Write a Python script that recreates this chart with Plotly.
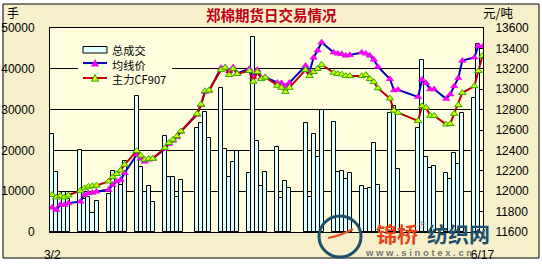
import plotly.graph_objects as go

# ---- data ----
dates = [
    "2009-03-02", "2009-03-03", "2009-03-04", "2009-03-05", "2009-03-06",
    "2009-03-09", "2009-03-10", "2009-03-11", "2009-03-12", "2009-03-13",
    "2009-03-16", "2009-03-17", "2009-03-18", "2009-03-19", "2009-03-20",
    "2009-03-23", "2009-03-24", "2009-03-25", "2009-03-26", "2009-03-27",
    "2009-03-30", "2009-03-31", "2009-04-01", "2009-04-02", "2009-04-03",
    "2009-04-07", "2009-04-08", "2009-04-09", "2009-04-10",
    "2009-04-13", "2009-04-14", "2009-04-15", "2009-04-16", "2009-04-17",
    "2009-04-20", "2009-04-21", "2009-04-22", "2009-04-23", "2009-04-24",
    "2009-04-27", "2009-04-28", "2009-04-29", "2009-04-30",
    "2009-05-04", "2009-05-05", "2009-05-06", "2009-05-07", "2009-05-08",
    "2009-05-11", "2009-05-12", "2009-05-13", "2009-05-14", "2009-05-15",
    "2009-05-18", "2009-05-19", "2009-05-20", "2009-05-21", "2009-05-22",
    "2009-05-25", "2009-05-26", "2009-05-27",
    "2009-06-01", "2009-06-02", "2009-06-03", "2009-06-04", "2009-06-05",
    "2009-06-08", "2009-06-09", "2009-06-10", "2009-06-11", "2009-06-12",
    "2009-06-15", "2009-06-16", "2009-06-17",
]

volume = [
    23900, 14700, 9900, 9700, 8200,
    20200, 8000, 8500, 4700, 7500,
    9200, 15000, 12000, 11500, 17500,
    33300, 16000, 9700, 11200, 7400,
    23600, 13600, 13400, 8700, 12800,
    25500, 26600, 29500, 23100,
    35400, 20400, 13500, 17200, 19800,
    14400, 47800, 22400, 11200, 14700,
    20900, 8400, 12400, 10700,
    26800, 8700, 24100, 18400, 30000,
    27000, 14600, 15000, 13000, 14400,
    11200, 10500, 10900, 21800, 11600,
    29200, 30900, 15500,
    25500, 42100, 18400, 15700, 16200,
    14400, 13000, 19400, 16700, 29200,
    32900, 46000, None,
]

avg_price = [
    11840, 11817, 11866, 11866, 11883,
    11899, 11964, 11981, 11985, 11997,
    12014, 12063, 12096, 12112, 12178,
    12360, 12320, 12290, 12310, 12320,
    12414, 12464, 12496, 12530, 12585,
    12750, 12845, 12975, 12985,
    13210, 13215, 13175, 13215, 13155,
    13200, 13120, 13190, 13110, 13120,
    13064, 13060, 13031, 13064,
    13230, 13170, 13310, 13380, 13460,
    13360, 13350, 13345, 13330, 13335,
    13360, 13350, 13330, 13290, 13220,
    13100, 12990, 12995,
    12925, 13095, 13060, 13000, 13000,
    12905, 12950, 13030, 13110, 13280,
    13311, 13426, 13416,
]

cf907 = [
    11964, 11940, 11955, 11940, 11960,
    12005, 12030, 12046, 12050, 12056,
    12096, 12140, 12170, 12205, 12260,
    12395, 12350, 12310, 12318, 12320,
    12424, 12474, 12506, 12539, 12588,
    12759, 12851, 12982, 12989,
    13190, 13212, 13140, 13200, 13150,
    13180, 13075, 13170, 13100, 13115,
    13035, 13015, 12975, 13015,
    13190, 13130, 13170, 13200, 13240,
    13163, 13150, 13146, 13130, 13130,
    13130, 13140, 13100, 13070, 13010,
    12910, 12790, 12770,
    12690, 12835, 12820, 12740, 12740,
    12655, 12660, 12760, 12845, 12965,
    13031, 13179, 13327,
]

series_names = ["总成交", "均线价", "主力CF907"]
x_tick_vals = ["2009-03-02", "2009-06-17"]
x_tick_text = ["3/2", "6/17"]

# ---- styling ----
PLOT_BG = "#FFFFDF"
OUTER_BG = "#F5F0C9"
BAR_FILL = "#E0FFFF"
BLUE = "#0000B8"
MAGENTA = "#FF00FF"
RED = "#C00000"
YGREEN = "#CCFF00"
GREEN_EDGE = "#33AA00"
DAY_MS = 86400000

fig = go.Figure()
fig.add_trace(go.Bar(
    x=dates, y=volume, name=series_names[0],
    width=DAY_MS,
    marker=dict(color=BAR_FILL, line=dict(color="black", width=1)),
    yaxis="y",
))
fig.add_trace(go.Scatter(
    x=dates, y=avg_price, name=series_names[1], yaxis="y2",
    mode="lines+markers",
    line=dict(color=BLUE, width=2),
    marker=dict(symbol="triangle-up", size=6.5, color=MAGENTA,
                line=dict(color="#CC00CC", width=0.5)),
))
fig.add_trace(go.Scatter(
    x=dates, y=cf907, name=series_names[2], yaxis="y2",
    mode="lines+markers",
    line=dict(color=RED, width=2),
    marker=dict(symbol="triangle-up", size=6.5, color=YGREEN,
                line=dict(color=GREEN_EDGE, width=1)),
))

W, H = 542, 264
L, R, T, B = 50, 483, 28, 232
pw, ph = R - L, B - T


def px(x):
    return (x - L) / pw


def py(y):
    return (B - y) / ph


tickfont = dict(family="Liberation Sans", size=12, color="black")
fig.update_layout(
    width=W, height=H, autosize=False,
    margin=dict(l=L, r=W - R, t=T, b=H - B, pad=0, autoexpand=False),
    paper_bgcolor="white",
    plot_bgcolor=PLOT_BG,
    bargap=0,
    font=dict(family="Liberation Sans", size=12, color="black"),
    showlegend=False,
    xaxis=dict(
        type="date", automargin=False,
        range=["2009-03-01 10:19", "2009-06-17 03:36"],
        tickvals=x_tick_vals, ticktext=x_tick_text,
        showgrid=False, zeroline=False,
        showline=True, linecolor="black", linewidth=1, mirror=True,
        ticks="", ticklabelstandoff=12, tickfont=tickfont,
    ),
    yaxis=dict(
        automargin=False,
        range=[0, 50000], dtick=10000, tickformat="d",
        showgrid=True, gridcolor="black", gridwidth=1,
        zeroline=False, showline=True, linecolor="black", linewidth=1,
        ticks="", ticklabelstandoff=12, tickfont=tickfont,
    ),
    yaxis2=dict(
        automargin=False,
        overlaying="y", side="right",
        range=[11600, 13600], dtick=200, tickformat="d",
        showgrid=False, zeroline=False,
        showline=True, linecolor="black", linewidth=1,
        ticks="inside", ticklen=4, tickcolor="black",
        ticklabelstandoff=9, tickfont=tickfont,
    ),
)


def tri(cx, cy, s=3.5):
    return (f"M {px(cx)},{py(cy - s)} L {px(cx - s)},{py(cy + s * 0.9)} "
            f"L {px(cx + s)},{py(cy + s * 0.9)} Z")


P = dict(xref="paper", yref="paper")
shapes = [
    # outer beige frame
    dict(type="rect", layer="below", x0=px(3), x1=px(539), y0=py(258), y1=py(4),
         fillcolor=OUTER_BG, line=dict(color="black", width=1), **P),
    # plot area background
    dict(type="rect", layer="below", x0=0, x1=1, y0=0, y1=1,
         fillcolor=PLOT_BG, line=dict(width=0), **P),
    # legend background box
    dict(type="rect", layer="above", x0=px(78), x1=px(172), y0=py(84), y1=py(41),
         fillcolor=PLOT_BG, line=dict(width=0), **P),
    # legend swatches
    dict(type="rect", layer="above", x0=px(83), x1=px(107), y0=py(53), y1=py(46.5),
         fillcolor=BAR_FILL, line=dict(color="black", width=1), **P),
    dict(type="line", layer="above", x0=px(83), x1=px(107), y0=py(63), y1=py(63),
         line=dict(color=BLUE, width=2), **P),
    dict(type="path", layer="above", path=tri(95, 63), fillcolor=MAGENTA,
         line=dict(color="#CC00CC", width=0.5), **P),
    dict(type="line", layer="above", x0=px(83), x1=px(107), y0=py(78), y1=py(78),
         line=dict(color=RED, width=2), **P),
    dict(type="path", layer="above", path=tri(95, 78), fillcolor=YGREEN,
         line=dict(color=GREEN_EDGE, width=1), **P),
    # watermark logo
    dict(type="circle", layer="above",
         x0=px(319), x1=px(361), y0=py(257), y1=py(216),
         line=dict(color="#1B4F6B", width=3), **P),
    dict(type="path", layer="above",
         path=f"M {px(328)},{py(238)} Q {px(340)},{py(236)} {px(353)},{py(229)}",
         line=dict(color="#E8502A", width=2), **P),
]
fig.update_layout(shapes=shapes)

ann = [
    dict(text="<b>郑棉期货日交易情况</b>", x=px(271), y=py(14),
         font=dict(family="Noto Sans CJK SC", size=14.5, color="#C00018")),
    dict(text="手", x=px(13), y=py(12),
         font=dict(family="Noto Sans CJK SC", size=12, color="black")),
    dict(text="元/吨", x=px(498), y=py(12),
         font=dict(family="Noto Sans CJK SC", size=12.5, color="black")),
    dict(text="<br>".join(series_names), x=px(110), y=py(64), xanchor="left",
         align="left",
         font=dict(family="Noto Sans CJK SC", size=11.2, color="black")),
    dict(text="<b>锦桥</b>", x=px(397), y=py(233),
         font=dict(family="Noto Sans CJK SC", size=21, color="#E8441A")),
    dict(text="®", x=px(422), y=py(225),
         font=dict(family="Liberation Sans", size=9, color="#888888")),
    dict(text="<b>纺织网</b>", x=px(458), y=py(233),
         font=dict(family="Noto Sans CJK SC", size=21, color="#1B4F6B")),
    dict(text="<b>w w w . s i n o t e x . c n</b>", x=px(418), y=py(252),
         font=dict(family="Liberation Sans", size=9.5, color="#777777")),
]
for a in ann:
    a.setdefault("xanchor", "center")
    a.update(xref="paper", yref="paper", showarrow=False, yanchor="middle")
fig.update_layout(annotations=ann)

fig.write_html("out.html")
